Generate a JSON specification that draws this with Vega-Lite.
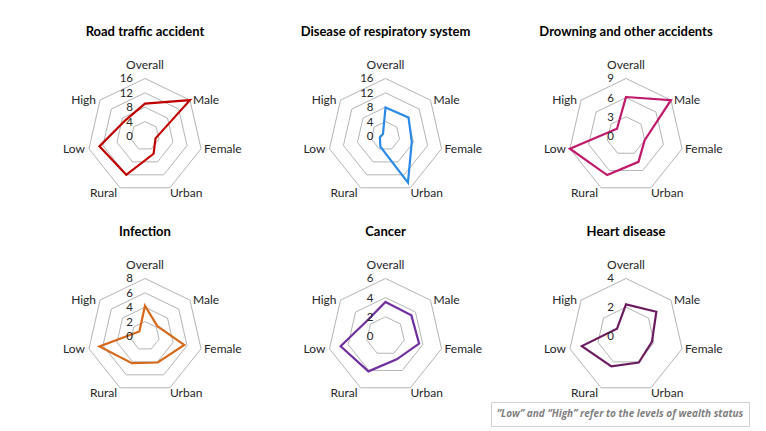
{
  "$schema": "https://vega.github.io/schema/vega-lite/v6.json",
  "background": "white",
  "padding": {"left": 45, "top": 26, "right": 5, "bottom": 0},
  "config": {"view": {"stroke": null}, "font": "Lato", "text": {"font": "Lato"}},
  "datasets": {
    "series": [
      {"chart": "Road traffic accident", "category": "Overall", "value": 9},
      {"chart": "Road traffic accident", "category": "Male", "value": 16},
      {"chart": "Road traffic accident", "category": "Female", "value": 3},
      {"chart": "Road traffic accident", "category": "Urban", "value": 5.5},
      {"chart": "Road traffic accident", "category": "Rural", "value": 12},
      {"chart": "Road traffic accident", "category": "Low", "value": 13},
      {"chart": "Road traffic accident", "category": "High", "value": 7},
      {"chart": "Disease of respiratory system", "category": "Overall", "value": 7.9},
      {"chart": "Disease of respiratory system", "category": "Male", "value": 8.2},
      {"chart": "Disease of respiratory system", "category": "Female", "value": 7.5},
      {"chart": "Disease of respiratory system", "category": "Urban", "value": 14.4},
      {"chart": "Disease of respiratory system", "category": "Rural", "value": 3.3},
      {"chart": "Disease of respiratory system", "category": "Low", "value": 1.6},
      {"chart": "Disease of respiratory system", "category": "High", "value": 0.9},
      {"chart": "Drowning and other accidents", "category": "Overall", "value": 6.1},
      {"chart": "Drowning and other accidents", "category": "Male", "value": 9},
      {"chart": "Drowning and other accidents", "category": "Female", "value": 3},
      {"chart": "Drowning and other accidents", "category": "Urban", "value": 4.5},
      {"chart": "Drowning and other accidents", "category": "Rural", "value": 6.8},
      {"chart": "Drowning and other accidents", "category": "Low", "value": 9},
      {"chart": "Drowning and other accidents", "category": "High", "value": 1.8},
      {"chart": "Infection", "category": "Overall", "value": 4.2},
      {"chart": "Infection", "category": "Male", "value": 2.2},
      {"chart": "Infection", "category": "Female", "value": 5.6},
      {"chart": "Infection", "category": "Urban", "value": 4.1},
      {"chart": "Infection", "category": "Rural", "value": 4.2},
      {"chart": "Infection", "category": "Low", "value": 6.5},
      {"chart": "Infection", "category": "High", "value": 1},
      {"chart": "Cancer", "category": "Overall", "value": 3.55},
      {"chart": "Cancer", "category": "Male", "value": 3.45},
      {"chart": "Cancer", "category": "Female", "value": 3.6},
      {"chart": "Cancer", "category": "Urban", "value": 2.7},
      {"chart": "Cancer", "category": "Rural", "value": 4.1},
      {"chart": "Cancer", "category": "Low", "value": 4.8},
      {"chart": "Cancer", "category": "High", "value": 2.5},
      {"chart": "Heart disease", "category": "Overall", "value": 2.2},
      {"chart": "Heart disease", "category": "Male", "value": 2.7},
      {"chart": "Heart disease", "category": "Female", "value": 1.85},
      {"chart": "Heart disease", "category": "Urban", "value": 2.05},
      {"chart": "Heart disease", "category": "Rural", "value": 2.35},
      {"chart": "Heart disease", "category": "Low", "value": 3.15},
      {"chart": "Heart disease", "category": "High", "value": 0.8}
    ],
    "axes": [
      {"chart": "Road traffic accident", "max": 16, "ticks": [0, 4, 8, 12, 16]},
      {"chart": "Disease of respiratory system", "max": 16, "ticks": [0, 4, 8, 12, 16]},
      {"chart": "Drowning and other accidents", "max": 9, "ticks": [0, 3, 6, 9]},
      {"chart": "Infection", "max": 8, "ticks": [0, 2, 4, 6, 8]},
      {"chart": "Cancer", "max": 6, "ticks": [0, 2, 4, 6]},
      {"chart": "Heart disease", "max": 4, "ticks": [0, 2, 4]}
    ]
  },
  "spacing": 2,
  "vconcat": [
    {
      "data": {"name": "series"},
      "transform": [
        {"lookup": "chart", "from": {"data": {"name": "axes"}, "key": "chart", "fields": ["max", "ticks"]}},
        {"calculate": "indexof(['Overall','Male','Female','Urban','Rural','Low','High'], datum.category)", "as": "idx"},
        {"calculate": "datum.idx * 2 * PI / 7", "as": "angle"},
        {"calculate": "sin(datum.angle)", "as": "ux"},
        {"calculate": "cos(datum.angle)", "as": "uy"}
      ],
      "bounds": "flush",
      "facet": {
        "field": "chart",
        "type": "nominal",
        "sort": ["Road traffic accident", "Disease of respiratory system", "Drowning and other accidents", "Infection", "Cancer", "Heart disease"],
        "header": {"title": null, "labelFont": "Lato", "labelFontSize": 13, "labelFontWeight": "bold", "labelColor": "#000000", "labelPadding": 20}
      },
      "columns": 3,
      "spacing": {"row": 70, "column": 40.5},
      "spec": {
        "width": 200,
        "height": 130,
        "encoding": {
          "x": {"field": "px", "type": "quantitative", "scale": {"domain": [-1.739, 1.739], "nice": false, "zero": false}, "axis": null},
          "y": {"field": "py", "type": "quantitative", "scale": {"domain": [-0.957, 1.304], "nice": false, "zero": false}, "axis": null}
        },
        "layer": [
          {
            "transform": [
              {"flatten": ["ticks"], "as": ["tick"]},
              {"filter": "datum.tick > 0"},
              {"calculate": "datum.tick / datum.max * datum.ux", "as": "px"},
              {"calculate": "datum.tick / datum.max * datum.uy", "as": "py"}
            ],
            "mark": {"type": "line", "interpolate": "linear-closed", "color": "#b4b4b4", "strokeWidth": 1},
            "encoding": {"detail": {"field": "tick", "type": "nominal"}, "order": {"field": "idx", "type": "quantitative"}}
          },
          {
            "transform": [
              {"calculate": "datum.value / datum.max * datum.ux", "as": "px"},
              {"calculate": "datum.value / datum.max * datum.uy", "as": "py"}
            ],
            "mark": {"type": "line", "interpolate": "linear-closed", "strokeWidth": 2.2, "strokeJoin": "miter"},
            "encoding": {
              "color": {"field": "chart", "type": "nominal", "legend": null,
                "scale": {"domain": ["Road traffic accident", "Disease of respiratory system", "Drowning and other accidents", "Infection", "Cancer", "Heart disease"],
                          "range": ["#c00000", "#2a8ae6", "#c0186a", "#d4691c", "#7030a0", "#6b1c5e"]}},
              "order": {"field": "idx", "type": "quantitative"}
            }
          },
          {
            "transform": [{"filter": "datum.category == 'Overall'"}, {"calculate": "datum.ux", "as": "px"}, {"calculate": "datum.uy", "as": "py"}],
            "mark": {"type": "text", "align": "center", "baseline": "bottom", "dy": -6, "fontSize": 12, "color": "#262626"},
            "encoding": {"text": {"field": "category"}}
          },
          {
            "transform": [{"filter": "datum.category == 'Male' || datum.category == 'Female'"}, {"calculate": "datum.ux", "as": "px"}, {"calculate": "datum.uy", "as": "py"}],
            "mark": {"type": "text", "align": "left", "baseline": "middle", "dx": 3, "dy": 0, "fontSize": 12, "color": "#262626"},
            "encoding": {"text": {"field": "category"}}
          },
          {
            "transform": [{"filter": "datum.category == 'Urban'"}, {"calculate": "datum.ux", "as": "px"}, {"calculate": "datum.uy", "as": "py"}],
            "mark": {"type": "text", "align": "left", "baseline": "middle", "dx": 0, "dy": 5, "fontSize": 12, "color": "#262626"},
            "encoding": {"text": {"field": "category"}}
          },
          {
            "transform": [{"filter": "datum.category == 'Rural'"}, {"calculate": "datum.ux", "as": "px"}, {"calculate": "datum.uy", "as": "py"}],
            "mark": {"type": "text", "align": "right", "baseline": "middle", "dx": -3, "dy": 5, "fontSize": 12, "color": "#262626"},
            "encoding": {"text": {"field": "category"}}
          },
          {
            "transform": [{"filter": "datum.category == 'Low' || datum.category == 'High'"}, {"calculate": "datum.ux", "as": "px"}, {"calculate": "datum.uy", "as": "py"}],
            "mark": {"type": "text", "align": "right", "baseline": "middle", "dx": -4, "dy": 0, "fontSize": 12, "color": "#262626"},
            "encoding": {"text": {"field": "category"}}
          },
          {
            "transform": [
              {"filter": "datum.category == 'Overall'"},
              {"flatten": ["ticks"], "as": ["tick"]},
              {"calculate": "0", "as": "px"},
              {"calculate": "datum.tick / datum.max", "as": "py"}
            ],
            "mark": {"type": "text", "align": "right", "baseline": "middle", "dx": -12, "dy": 1, "fontSize": 11.5, "color": "#262626"},
            "encoding": {"text": {"field": "tick", "type": "quantitative"}}
          }
        ]
      }
    },
    {
      "spacing": 0,
      "hconcat": [
        {
          "width": 445,
          "height": 24,
          "data": {"values": [{"t": ""}]},
          "mark": {"type": "text"},
          "encoding": {"text": {"field": "t"}}
        },
        {
          "width": 258,
          "height": 24,
          "view": {"stroke": "#d0d0d0", "strokeWidth": 1},
          "data": {"values": [{"note": "“Low” and “High” refer to the levels of wealth status"}]},
          "mark": {"type": "text", "font": "Open Sans", "fontStyle": "italic", "fontWeight": "bold", "fontSize": 10, "color": "#7f7f7f"},
          "encoding": {"text": {"field": "note"}}
        }
      ]
    }
  ]
}
